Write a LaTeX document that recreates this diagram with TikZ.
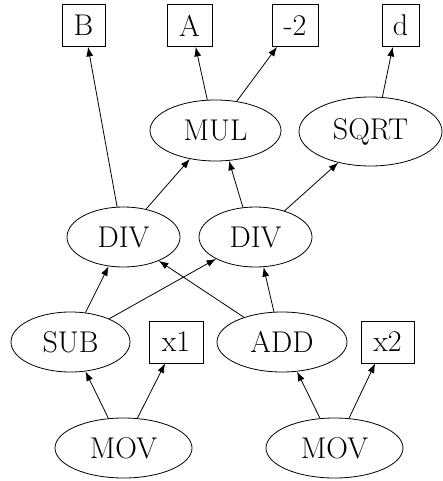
\documentclass[tikz,border=0pt]{standalone}
\usetikzlibrary{shapes.geometric,arrows.meta}
\begin{document}
\begin{tikzpicture}[x=1pt,y=-1pt,
  every node/.style={font=\fontsize{30}{34}\selectfont, inner sep=0pt, line width=0.8pt},
  op/.style={draw, ellipse, minimum height=60pt},
  val/.style={draw, rectangle, minimum height=42pt},
  edge/.style={line width=0.8pt, -{Latex[length=9.5pt,width=7pt]}}]
\useasboundingbox (0,0) rectangle (443,481);
% top row
\node[val, minimum width=43pt] (B) at (83.5,25.5) {B};
\node[val, minimum width=45pt] (A) at (189.5,25.5) {A};
\node[val, minimum width=46pt] (m2) at (295,25.5) {-2};
\node[val, minimum width=37pt] (d) at (400.5,25.5) {d};
% ops
\node[op, minimum width=131pt, minimum height=61pt] (mul) at (215.5,130.5) {MUL};
\node[op, minimum width=143pt, minimum height=69pt] (sqrt) at (370.5,131.5) {SQRT};
\node[op, minimum width=113pt] (divl) at (123.5,237) {DIV};
\node[op, minimum width=113pt] (divr) at (255.5,237) {DIV};
\node[op, minimum width=119pt] (sub) at (70.5,342) {SUB};
\node[val, minimum width=54pt] (x1) at (176,342) {x1};
\node[op, minimum width=130pt] (add) at (282,342) {ADD};
\node[val, minimum width=53pt] (x2) at (387.5,342) {x2};
\node[op, minimum width=137pt] (movl) at (123.5,448) {MOV};
\node[op, minimum width=137pt] (movr) at (334.5,448) {MOV};
% edges
\draw[edge] (divl.102) -- (B.-78);
\draw[edge] (mul.105) -- (A.-74);
\draw[edge] (mul.54) -- (m2.-130);
\draw[edge] (sqrt.71) -- (d.-110);
\draw[edge] (divl.51) -- (mul.-132);
\draw[edge] (divr.113) -- (mul.-66);
\draw[edge] (divr.42) -- (sqrt.-136);
\draw[edge] (sub.63) -- (divl.-117);
\draw[edge] (sub.31) -- (divr.-151);
\draw[edge] (add.147) -- (divl.-34);
\draw[edge] (add.105) -- (divr.-75);
\draw[edge] (movl.117) -- (sub.-63);
\draw[edge] (movl.65) -- (x1.-117);
\draw[edge] (movr.116) -- (add.-63);
\draw[edge] (movr.64) -- (x2.-120);
\end{tikzpicture}
\end{document}
